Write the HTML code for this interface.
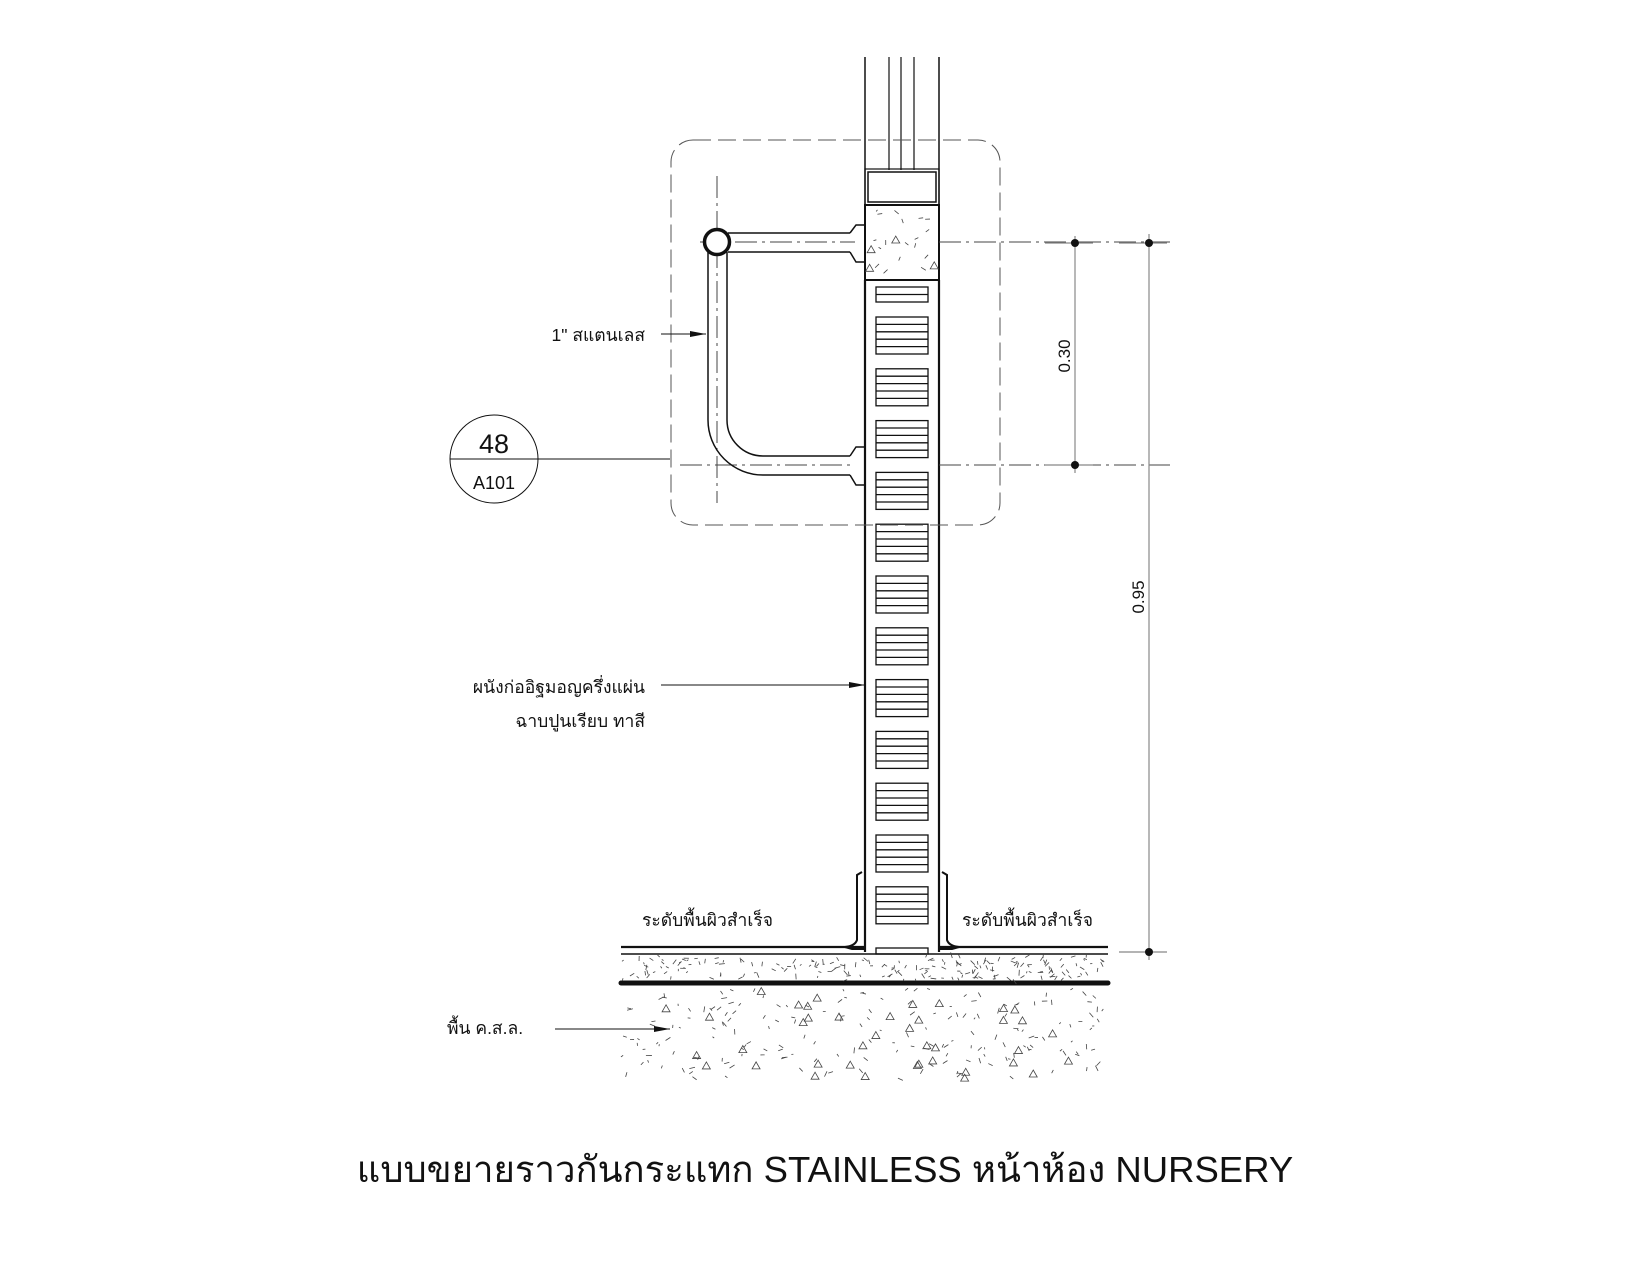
<!DOCTYPE html>
<html><head><meta charset="utf-8"><style>
html,body{margin:0;padding:0;background:#fff;}
svg{display:block;}
text{font-family:"Liberation Sans","Noto Sans CJK SC",sans-serif;fill:#111;}
</style></head><body>
<svg id="s" width="1650" height="1275" viewBox="0 0 1650 1275" xmlns="http://www.w3.org/2000/svg">
<g fill="none" stroke="#111">
<line x1="865" y1="57" x2="865" y2="205" stroke-width="1.5"/>
<line x1="939" y1="57" x2="939" y2="205" stroke-width="1.5"/>
<line x1="889" y1="57" x2="889" y2="170" stroke-width="1.2"/>
<line x1="901" y1="57" x2="901" y2="170" stroke-width="1.2"/>
<line x1="914" y1="57" x2="914" y2="170" stroke-width="1.2"/>
<rect x="865" y="169" width="74" height="36" stroke-width="1.2"/>
<rect x="868" y="172" width="68" height="30" stroke-width="1.5"/>
<rect x="865" y="205" width="74" height="75" stroke-width="2"/>
<line x1="865" y1="280" x2="865" y2="952" stroke-width="2.2"/>
<line x1="939" y1="280" x2="939" y2="952" stroke-width="2.2"/>
<g id="slots" stroke-width="1.3"></g>
<rect x="671" y="140" width="329" height="385" rx="22" stroke="#555" stroke-width="1" stroke-dasharray="18,7"/>
<line x1="717" y1="176" x2="717" y2="503" stroke="#444" stroke-width="1" stroke-dasharray="22,5,3,5"/>
<line x1="700" y1="242" x2="855" y2="242" stroke="#444" stroke-width="1" stroke-dasharray="22,5,3,5"/>
<line x1="939" y1="242" x2="1170" y2="242" stroke="#444" stroke-width="1" stroke-dasharray="22,5,3,5"/>
<line x1="680" y1="465" x2="855" y2="465" stroke="#444" stroke-width="1" stroke-dasharray="22,5,3,5"/>
<line x1="939" y1="465" x2="1170" y2="465" stroke="#444" stroke-width="1" stroke-dasharray="22,5,3,5"/>
<line x1="728" y1="233" x2="850" y2="233" stroke-width="1.5"/>
<line x1="728" y1="252" x2="850" y2="252" stroke-width="1.5"/>
<path d="M850 233 L856 225 L865 225 L865 262 L856 262 L850 252" stroke-width="1.5"/>
<path d="M708 252 L708 420 A55 55 0 0 0 763 475 L850 475" stroke-width="1.5"/>
<path d="M727 252 L727 420 A36 36 0 0 0 763 456 L850 456" stroke-width="1.5"/>
<path d="M850 456 L856 447 L865 447 L865 485 L856 485 L850 475" stroke-width="1.5"/>
<circle cx="717" cy="242" r="12.5" stroke-width="3.5" fill="#fff"/>
<path d="M862 872 L857 875 L857 940 Q855 946 845 947 L852 949 L865 949" stroke-width="2"/>
<path d="M942 872 L947 875 L947 940 Q949 946 959 947 L952 949 L939 949" stroke-width="2"/>
<line x1="621" y1="947" x2="865" y2="947" stroke-width="2.2"/>
<line x1="939" y1="947" x2="1108" y2="947" stroke-width="2.2"/>
<line x1="621" y1="954" x2="1108" y2="954" stroke-width="1.5"/>
<line x1="621" y1="983" x2="1108" y2="983" stroke-width="5" stroke-linecap="round"/>
<g id="tex" stroke="#444" stroke-width="0.8"></g>
<line x1="661" y1="334" x2="706" y2="334" stroke-width="1"/>
<line x1="661" y1="685" x2="865" y2="685" stroke-width="1"/>
<line x1="555" y1="1029" x2="670" y2="1029" stroke-width="1"/>
<line x1="538" y1="459" x2="670" y2="459" stroke-width="1"/>
<circle cx="494" cy="459" r="44" stroke-width="1"/>
<line x1="450" y1="459" x2="538" y2="459" stroke-width="1"/>
<g stroke="#888" stroke-width="1.2">
<line x1="1075" y1="236" x2="1075" y2="473"/>
<line x1="1045" y1="243" x2="1093" y2="243"/>
<line x1="1045" y1="465" x2="1093" y2="465"/>
<line x1="1149" y1="234" x2="1149" y2="960"/>
<line x1="1119" y1="243" x2="1167" y2="243"/>
<line x1="1119" y1="952" x2="1167" y2="952"/>
</g>
</g>
<g fill="#111">
<polygon points="690,331 706,334 690,337"/>
<polygon points="849,682 865,685 849,688"/>
<polygon points="654,1026 670,1029 654,1032"/>
<circle cx="1075" cy="243" r="4"/><circle cx="1075" cy="465" r="4"/>
<circle cx="1149" cy="243" r="4"/><circle cx="1149" cy="952" r="4"/>
</g>
<text x="645" y="341" font-size="17.5" text-anchor="end">1" สแตนเลส</text>
<text x="494" y="453" font-size="27" text-anchor="middle">48</text>
<text x="494" y="489" font-size="18" text-anchor="middle">A101</text>
<text x="645" y="693" font-size="17.5" text-anchor="end">ผนังก่ออิฐมอญครึ่งแผ่น</text>
<text x="645" y="727" font-size="17.5" text-anchor="end">ฉาบปูนเรียบ ทาสี</text>
<text x="642" y="926" font-size="17.5">ระดับพื้นผิวสำเร็จ</text>
<text x="962" y="926" font-size="17.5">ระดับพื้นผิวสำเร็จ</text>
<text x="447" y="1034" font-size="17.5">พื้น ค.ส.ล.</text>
<text transform="translate(1070,356) rotate(-90)" font-size="17" text-anchor="middle">0.30</text>
<text transform="translate(1144,597) rotate(-90)" font-size="17" text-anchor="middle">0.95</text>
<text x="825" y="1182" font-size="36.5" text-anchor="middle">แบบขยายราวกันกระแทก STAINLESS หน้าห้อง NURSERY</text>
</svg>
<script>
var NS="http://www.w3.org/2000/svg";
function el(p,t,a){var e=document.createElementNS(NS,t);for(var k in a)e.setAttribute(k,a[k]);p.appendChild(e);return e;}
var sl=document.getElementById("slots");
function slot(y,h,n){el(sl,"rect",{x:876,y:y,width:52,height:h});for(var i=1;i<n;i++){var yy=y+h*i/n;el(sl,"line",{x1:876,y1:yy,x2:928,y2:yy});}}
slot(287,15,2);
for(var k=0;k<12;k++){slot(317+k*51.8,37,5);}
slot(948,6,1);
var seed=7;function r(){seed=(seed*16807)%2147483647;return seed/2147483647;}
var tx=document.getElementById("tex");
function dash(x0,x1,y0,y1,n,tri){for(var i=0;i<n;i++){var x=x0+r()*(x1-x0),y=y0+r()*(y1-y0),a=r()*6.28,l=2+r()*4;
el(tx,"line",{x1:x,y1:y,x2:x+Math.cos(a)*l,y2:y+Math.sin(a)*l});}
for(var j=0;j<tri;j++){var x=x0+r()*(x1-x0),y=y0+r()*(y1-y0);el(tx,"polygon",{points:(x)+","+(y-4)+" "+(x+4)+","+(y+3)+" "+(x-4)+","+(y+3)});}}
dash(623,1106,957,980,200,0);
dash(623,1106,988,1080,190,40);
dash(869,935,209,276,18,4);
</script>
</body></html>
